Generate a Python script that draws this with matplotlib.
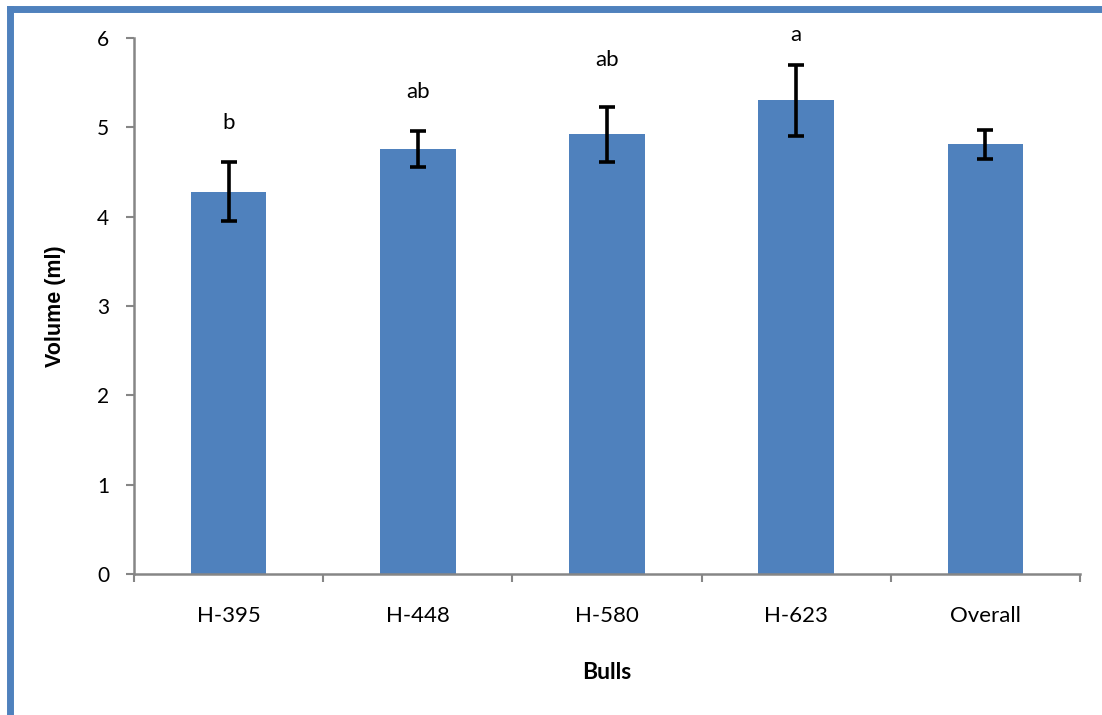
import numpy as np
import matplotlib.pyplot as plt
from matplotlib.lines import Line2D

# volume por touro (media +- erro padrao)
touros = ['H-395', 'H-448', 'H-580', 'H-623', 'Overall']
volume = [4.28, 4.76, 4.92, 5.30, 4.81]
erro = [0.33, 0.20, 0.31, 0.40, 0.16]
letras = ['b', 'ab', 'ab', 'a', '']

azul = '#4F81BD'
cinza = '#868686'

fig = plt.figure(figsize=(11.02, 7.15), dpi=100)
ax = fig.add_axes([0.1216, 0.197, 0.8584, 0.75])

x = np.arange(len(touros))
ax.bar(x, volume, width=0.4, color=azul, zorder=2)
ax.errorbar(x, volume, yerr=erro, fmt='none', ecolor='black',
            elinewidth=2.6, capsize=5.5, capthick=2.6, zorder=3)

# letras de significancia acima das barras (folga em unidades de y)
folga = [0.44, 0.44, 0.52, 0.33, 0.4]
for xi, v, e, l, f in zip(x, volume, erro, letras, folga):
    ax.text(xi, v + e + f, l, ha='center', va='center',
            fontsize=16, family='Lato')

ax.set_xlim(-0.5, len(touros) - 0.5)
ax.set_ylim(0, 6)
ax.set_yticks(np.arange(0, 7, 1))

# marcas nas fronteiras das categorias, rotulos no centro
ax.set_xticks(np.arange(-0.5, len(touros), 1))
ax.set_xticklabels([])
ax.set_xticks(x, minor=True)
ax.set_xticklabels(touros, minor=True, fontsize=16, family='Lato')
ax.tick_params(axis='x', which='major', length=6, width=1.5, color=cinza, direction='out')
ax.tick_params(axis='x', which='minor', length=0, pad=23)
ax.tick_params(axis='y', length=6, width=1.5, color=cinza, direction='out',
               labelsize=15, pad=12)
for lab in ax.get_yticklabels():
    lab.set_family('Lato')

for s in ['top', 'right']:
    ax.spines[s].set_visible(False)
for s in ['left', 'bottom']:
    ax.spines[s].set_color(cinza)
    ax.spines[s].set_linewidth(1.8)

ax.set_xlabel('Bulls', fontsize=16.5, fontweight='bold', family='Lato', labelpad=26)
ax.set_ylabel('Volume (ml)', fontsize=15.5, fontweight='bold',
              family='Liberation Sans', labelpad=22)

# moldura azul
fig.add_artist(Line2D([10 / 1102, 1.0], [1 - 8.5 / 715, 1 - 8.5 / 715],
                      transform=fig.transFigure, color=azul, lw=5))
fig.add_artist(Line2D([10 / 1102, 10 / 1102], [0.0, 1 - 8.5 / 715],
                      transform=fig.transFigure, color=azul, lw=5))

fig.savefig('out.png', dpi=100)
